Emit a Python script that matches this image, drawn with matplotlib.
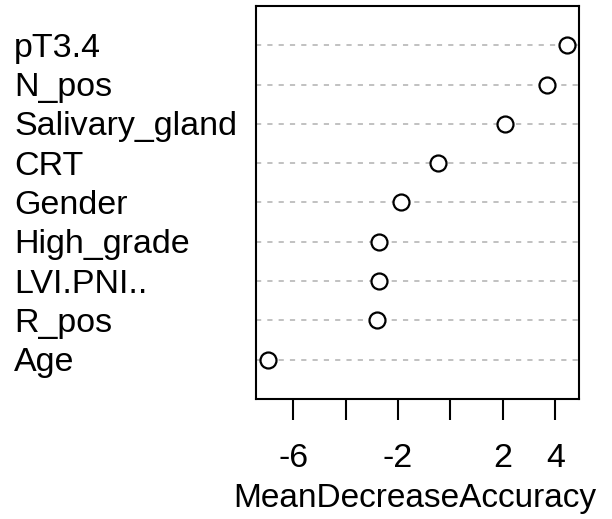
import matplotlib
matplotlib.use("Agg")
import matplotlib.pyplot as plt
import matplotlib.transforms as mtransforms

# variable importance, bottom to top as drawn
variables = ["Age", "R_pos", "LVI.PNI..", "High_grade", "Gender",
             "CRT", "Salivary_gland", "N_pos", "pT3.4"]
mean_decrease_acc = [-6.96, -2.81, -2.73, -2.73, -1.89, -0.47, 2.09, 3.69, 4.45]

xticks = [-6, -4, -2, 0, 2, 4]
xtick_labels = ["-6", "", "-2", "", "2", "4"]

plt.rcParams["font.family"] = ["Liberation Sans", "DejaVu Sans"]

fig = plt.figure(figsize=(6.12, 5.19), dpi=100)
ax = fig.add_axes([256 / 612, 1 - 399 / 519, 323 / 612, 393 / 519])

rows = list(range(1, len(variables) + 1))
for y in rows:
    ax.axhline(y, color="#b0b0b0", lw=1.1, linestyle=(0, (3.4, 4.0)), zorder=1)
ax.plot(mean_decrease_acc, rows, linestyle="none", marker="o", markersize=11.5,
        markerfacecolor="white", markeredgecolor="black", markeredgewidth=1.6,
        zorder=3)

lo, hi = min(mean_decrease_acc), max(mean_decrease_acc)
pad = (hi - lo) * 0.04
ax.set_xlim(lo - pad, hi + pad)
ax.set_ylim(0, len(variables) + 1)

ax.set_xticks(xticks)
ax.set_xticklabels(xtick_labels, fontsize=24.5)
ax.tick_params(axis="x", length=15, width=1.5, pad=17, direction="out")
ax.set_yticks([])
for s in ax.spines.values():
    s.set_linewidth(1.5)

# row labels sit at the left edge of the figure, a touch below each row
trans = mtransforms.blended_transform_factory(fig.transFigure, ax.transData)
trans = trans + mtransforms.ScaledTranslation(0, -0.03, fig.dpi_scale_trans)
for y, name in zip(rows, variables):
    ax.text(14 / 612, y, name, transform=trans, ha="left", va="center",
            fontsize=24.5, clip_on=False)

fig.text((256 + 579) / 2 / 612 - 0.005, 1 - 507 / 519, "MeanDecreaseAccuracy",
         ha="center", va="baseline", fontsize=24)

fig.savefig("out.png", dpi=100)
